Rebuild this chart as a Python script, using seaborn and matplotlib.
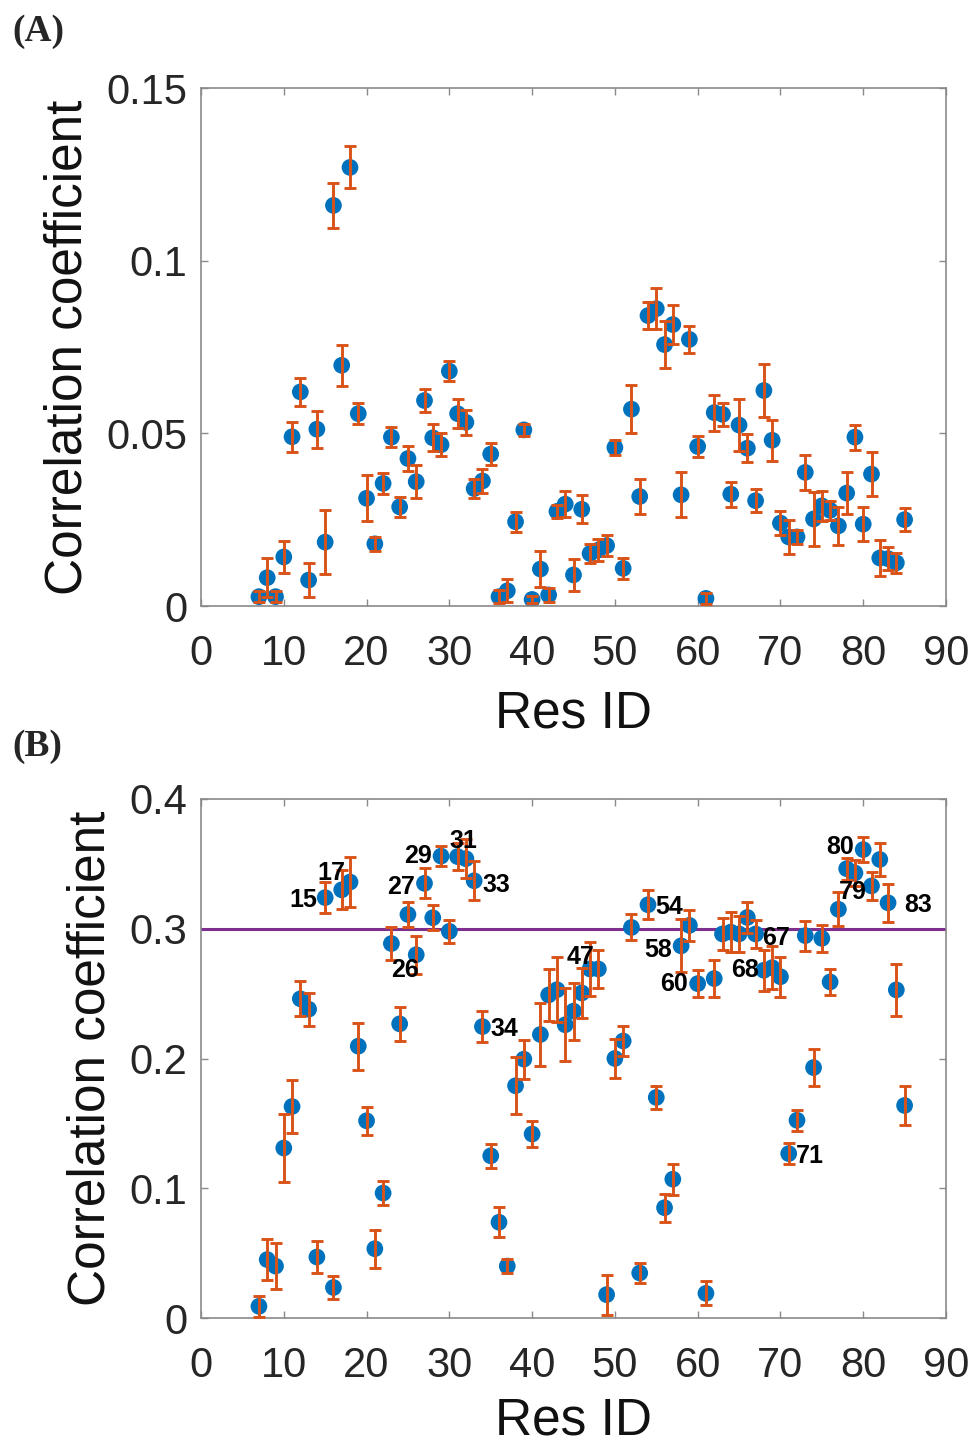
import numpy as np
import pandas as pd
import seaborn as sns
import matplotlib
matplotlib.use("Agg")
import matplotlib.pyplot as plt

# ---------------- data ----------------
res_id = list(range(7, 86))

corr_a = [0.0027, 0.0082, 0.0027, 0.0142, 0.0490, 0.0620, 0.0075, 0.0512, 0.0185, 0.1160,
          0.0697, 0.1270, 0.0557, 0.0312, 0.0180, 0.0355, 0.0489, 0.0287, 0.0427, 0.0360,
          0.0595, 0.0487, 0.0467, 0.0680, 0.0557, 0.0532, 0.0340, 0.0362, 0.0440, 0.0027,
          0.0044, 0.0244, 0.0510, 0.0019, 0.0107, 0.0032, 0.0274, 0.0295, 0.0090, 0.0280,
          0.0152, 0.0162, 0.0175, 0.0459, 0.0109, 0.0570, 0.0317, 0.0841, 0.0861, 0.0757,
          0.0815, 0.0322, 0.0772, 0.0462, 0.0022, 0.0560, 0.0555, 0.0324, 0.0524, 0.0457,
          0.0305, 0.0624, 0.0480, 0.0240, 0.0200, 0.0200, 0.0387, 0.0252, 0.0290, 0.0277,
          0.0232, 0.0327, 0.0489, 0.0237, 0.0382, 0.0139, 0.0137, 0.0125, 0.0250]
err_a = [0.0015, 0.0056, 0.0015, 0.0045, 0.0044, 0.0041, 0.0050, 0.0054, 0.0092, 0.0064,
         0.0060, 0.0061, 0.0031, 0.0067, 0.0020, 0.0030, 0.0030, 0.0030, 0.0036, 0.0047,
         0.0032, 0.0039, 0.0034, 0.0029, 0.0042, 0.0037, 0.0028, 0.0035, 0.0032, 0.0018,
         0.0033, 0.0029, 0.0017, 0.0010, 0.0053, 0.0020, 0.0018, 0.0037, 0.0046, 0.0040,
         0.0028, 0.0032, 0.0030, 0.0021, 0.0031, 0.0070, 0.0052, 0.0040, 0.0059, 0.0068,
         0.0057, 0.0065, 0.0038, 0.0030, 0.0017, 0.0052, 0.0034, 0.0036, 0.0075, 0.0040,
         0.0034, 0.0076, 0.0060, 0.0034, 0.0048, 0.0020, 0.0051, 0.0078, 0.0044, 0.0028,
         0.0054, 0.0062, 0.0036, 0.0050, 0.0064, 0.0051, 0.0033, 0.0028, 0.0033]

corr_b = [0.009, 0.045, 0.040, 0.131, 0.163, 0.246, 0.238, 0.047, 0.324, 0.0235,
          0.330, 0.336, 0.2095, 0.152, 0.0534, 0.0963, 0.2886, 0.2267, 0.311, 0.280,
          0.335, 0.3085, 0.356, 0.298, 0.3556, 0.354, 0.337, 0.2246, 0.125, 0.0738,
          0.040, 0.179, 0.1995, 0.1418, 0.2185, 0.249, 0.253, 0.226, 0.2365, 0.2505,
          0.269, 0.269, 0.018, 0.200, 0.2135, 0.301, 0.0347, 0.3185, 0.170, 0.085,
          0.107, 0.2868, 0.3026, 0.2577, 0.019, 0.2616, 0.296, 0.2974, 0.296, 0.3087,
          0.296, 0.268, 0.270, 0.263, 0.1267, 0.1524, 0.2947, 0.193, 0.2926, 0.259,
          0.315, 0.3463, 0.343, 0.361, 0.333, 0.3534, 0.320, 0.2529, 0.1638]
err_b = [0.0082, 0.016, 0.018, 0.026, 0.0205, 0.0135, 0.0127, 0.0126, 0.012, 0.0087,
         0.015, 0.019, 0.018, 0.011, 0.0146, 0.009, 0.013, 0.013, 0.010, 0.0146,
         0.0116, 0.0097, 0.008, 0.009, 0.0106, 0.015, 0.015, 0.012, 0.0094, 0.0115,
         0.0055, 0.022, 0.015, 0.0097, 0.024, 0.020, 0.025, 0.028, 0.022, 0.0196,
         0.021, 0.015, 0.0155, 0.015, 0.0115, 0.010, 0.0078, 0.011, 0.009, 0.0107,
         0.012, 0.0205, 0.0118, 0.0106, 0.0093, 0.014, 0.012, 0.0155, 0.014, 0.0123,
         0.011, 0.016, 0.0167, 0.0155, 0.0082, 0.008, 0.0115, 0.014, 0.0106, 0.0103,
         0.013, 0.0086, 0.010, 0.0098, 0.0106, 0.0126, 0.0146, 0.020, 0.0152]

labelled_ids = [15, 17, 26, 27, 29, 31, 33, 34, 47, 54, 58, 60, 67, 68, 71, 79, 80, 83]
threshold = 0.3

x_ticks = [0, 10, 20, 30, 40, 50, 60, 70, 80, 90]
y_ticks_a = [0, 0.05, 0.1, 0.15]
y_labels_a = ["0", "0.05", "0.1", "0.15"]
y_ticks_b = [0, 0.1, 0.2, 0.3, 0.4]
y_labels_b = ["0", "0.1", "0.2", "0.3", "0.4"]

# label offsets (data units) relative to each labelled point
label_offsets = {15: (-2.7, -0.0015), 17: (-1.2, 0.013), 26: (-1.3, -0.012),
                 27: (-2.8, -0.003), 29: (-2.75, 0.0), 31: (0.7, 0.012),
                 33: (2.7, -0.003), 34: (2.7, -0.0016), 47: (-1.2, 0.009),
                 54: (2.6, -0.0015), 58: (-2.8, -0.003), 60: (-2.8, 0.0),
                 67: (2.5, -0.003), 68: (-2.3, 0.0), 71: (2.6, -0.002),
                 79: (-0.2, -0.015), 80: (-2.8, 0.002), 83: (3.6, -0.0015)}

# ---------------- style ----------------
sns.set_style("white")
plt.rcParams["font.family"] = ["Liberation Sans", "DejaVu Sans"]

BLUE = "#0072BD"
ORANGE = "#D95319"
PURPLE = "#7E2F8E"
SPINE = "#8a8a8a"
TXT = "#262626"

df_a = pd.DataFrame({"res": res_id, "corr": corr_a, "err": err_a})
df_b = pd.DataFrame({"res": res_id, "corr": corr_b, "err": err_b})

fig = plt.figure(figsize=(9.74, 14.45), dpi=100)
ax_a = fig.add_axes([201 / 974, 1 - 606 / 1445, 745 / 974, 518 / 1445])
ax_b = fig.add_axes([201 / 974, 1 - 1318 / 1445, 745 / 974, 519 / 1445])


def draw(ax, df, yticks, ylabels, ymax, xpad):
    sns.scatterplot(data=df, x="res", y="corr", ax=ax, color=BLUE, s=145,
                    linewidth=0, edgecolor="none", zorder=2, legend=False)
    ax.errorbar(df["res"], df["corr"], yerr=df["err"], fmt="none",
                ecolor=ORANGE, elinewidth=2.1, capsize=4.3, capthick=2.1, zorder=3)
    ax.set_xlim(0, 90)
    ax.set_ylim(0, ymax)
    ax.set_xticks(x_ticks)
    ax.set_xticklabels([str(t) for t in x_ticks])
    ax.set_yticks(yticks)
    ax.set_yticklabels(ylabels)
    ax.tick_params(axis="both", which="both", direction="in", length=5, width=1,
                   color=SPINE, labelcolor=TXT, labelsize=30,
                   top=True, right=True, bottom=True, left=True)
    ax.tick_params(axis="x", pad=20)
    ax.tick_params(axis="y", pad=10)
    for s in ax.spines.values():
        s.set_visible(True)
        s.set_color(SPINE)
        s.set_linewidth(1.2)
    ax.set_xlabel("Res ID", fontsize=37, color="#111111", labelpad=xpad)
    ax.set_ylabel("Correlation coefficient", fontsize=37, color="#111111", labelpad=10)


draw(ax_a, df_a, y_ticks_a, y_labels_a, 0.15, 11)
draw(ax_b, df_b, y_ticks_b, y_labels_b, 0.4, 8)

ax_b.axhline(threshold, color=PURPLE, linewidth=2.2, zorder=1)

for rid in labelled_ids:
    i = res_id.index(rid)
    dx, dy = label_offsets[rid]
    ax_b.text(rid + dx, corr_b[i] + dy, str(rid), ha="center", va="center",
              fontsize=18, fontweight="bold", color="black", zorder=4)

fig.text(12 / 974, 1 - 14 / 1445, "(A)", ha="left", va="top", fontsize=27,
         fontweight="bold", family=["Liberation Serif", "DejaVu Serif"])
fig.text(12 / 974, 1 - 729 / 1445, "(B)", ha="left", va="top", fontsize=27,
         fontweight="bold", family=["Liberation Serif", "DejaVu Serif"])

fig.savefig("out.png", dpi=100, facecolor="white")
